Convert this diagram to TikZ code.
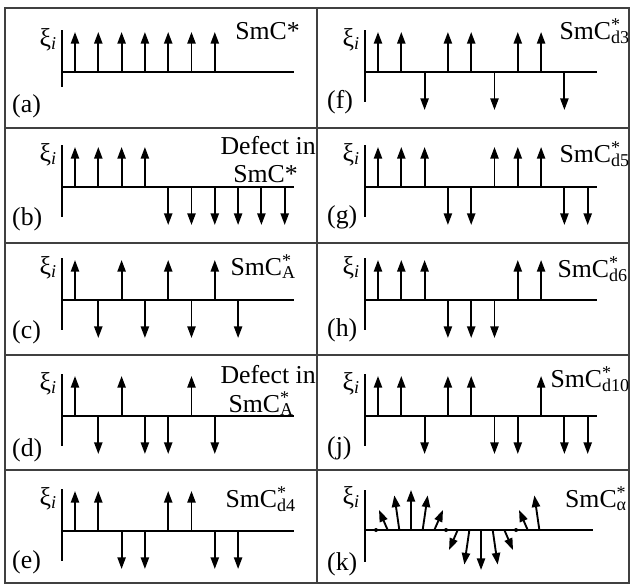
\documentclass[tikz,border=0pt]{standalone}
\usepackage{fontspec}
\setmainfont{Liberation Serif}
\usetikzlibrary{arrows.meta}

% label SmC* with a subscript under the star
\newcommand\smc[1]{SmC\rlap{\textsuperscript{*}}\textsubscript{#1}}
\newcommand\upspins[1]{\foreach \k in {#1} \draw[spin] (75+23.3*\k,0) -- ++(0,-40);}
\newcommand\downspins[1]{\foreach \k in {#1} \draw[spin] (75+23.3*\k,0) -- ++(0,38);}
\newcommand\axes[1]{\draw[axis] (62,-42) -- (62,#1); \draw[axis] (62,0) -- (294,0);}

\begin{document}
\begin{tikzpicture}[x=0.03cm, y=-0.03cm, >={Triangle[length=10pt, width=7pt]},
    every node/.style={font=\fontsize{22}{24}\selectfont, inner sep=0pt},
    frame/.style={draw=black!75, line width=1.1pt},
    axis/.style={line width=1.4pt},
    spin/.style={->, line width=1.6pt}]
  \useasboundingbox (0,0) rectangle (631,586);
  % frame
  \draw[frame] (5,8) rectangle (629,583);
  \draw[frame] (317,8) -- (317,583);
  \foreach \y in {128,243,355,470} \draw[frame] (5,\y) -- (629,\y);

  % left column
  \begin{scope}[shift={(0,72)}] % (a)
    \axes{15}
    \upspins{0,...,6}
    \node[anchor=base east] (xia) at (57,-26) {ξ\textsubscript{\textit{i}}};
    \node[anchor=base west] (la) at (12,40) {(a)};
    \node[anchor=base east] (sa) at (300,-33) {SmC*};
  \end{scope}
  \begin{scope}[shift={(0,187)}] % (b)
    \axes{30}
    \upspins{0,...,3}
    \downspins{4,...,9}
    \node[anchor=base east] (xib) at (57,-26) {ξ\textsubscript{\textit{i}}};
    \node[anchor=base west] (lb) at (12,38) {(b)};
    \node[anchor=base east] (db) at (316,-33) {Defect in};
    \node[anchor=base east] (sb) at (298,-5) {SmC*};
  \end{scope}
  \begin{scope}[shift={(0,300)}] % (c)
    \axes{30}
    \upspins{0,2,4,6}
    \downspins{1,3,5,7}
    \node[anchor=base east] (xic) at (57,-26) {ξ\textsubscript{\textit{i}}};
    \node[anchor=base west] (lc) at (12,38) {(c)};
    \node[anchor=base east] (sc) at (296,-25) {\smc{A}};
  \end{scope}
  \begin{scope}[shift={(0,416)}] % (d)
    \axes{30}
    \upspins{0,2,5}
    \downspins{1,3,4,6}
    \node[anchor=base east] (xid) at (57,-26) {ξ\textsubscript{\textit{i}}};
    \node[anchor=base west] (ld) at (12,40) {(d)};
    \node[anchor=base east] (dd) at (316,-33) {Defect in};
    \node[anchor=base east] (sd) at (294,-4) {\smc{A}};
  \end{scope}
  \begin{scope}[shift={(0,531)}] % (e)
    \axes{30}
    \upspins{0,1,4,5}
    \downspins{2,3,6,7}
    \node[anchor=base east] (xie) at (57,-26) {ξ\textsubscript{\textit{i}}};
    \node[anchor=base west] (le) at (12,37) {(e)};
    \node[anchor=base east] (se) at (296,-24) {\smc{d4}};
  \end{scope}

  % right column
  \begin{scope}[shift={(303,72)}] % (f)
    \axes{30}
    \upspins{0,1,3,4,6,7}
    \downspins{2,5,8}
    \node[anchor=base east] (xif) at (57,-26) {ξ\textsubscript{\textit{i}}};
    \node[anchor=base west] (lf) at (24,36) {(f)};
    \node[anchor=base east] (sf) at (327,-33) {\smc{d3}};
  \end{scope}
  \begin{scope}[shift={(303,187)}] % (g)
    \axes{30}
    \upspins{0,1,2,5,6,7}
    \downspins{3,4,8,9}
    \node[anchor=base east] (xig) at (57,-26) {ξ\textsubscript{\textit{i}}};
    \node[anchor=base west] (lg) at (24,36) {(g)};
    \node[anchor=base east] (sg) at (327,-25) {\smc{d5}};
  \end{scope}
  \begin{scope}[shift={(303,300)}] % (h)
    \axes{30}
    \upspins{0,1,2,6,7}
    \downspins{3,4,5}
    \node[anchor=base east] (xih) at (57,-26) {ξ\textsubscript{\textit{i}}};
    \node[anchor=base west] (lh) at (24,36) {(h)};
    \node[anchor=base east] (sh) at (325,-23) {\smc{d6}};
  \end{scope}
  \begin{scope}[shift={(303,416)}] % (j)
    \axes{30}
    \upspins{0,1,3,4,7}
    \downspins{2,5,6,8,9}
    \node[anchor=base east] (xij) at (57,-26) {ξ\textsubscript{\textit{i}}};
    \node[anchor=base west] (lj) at (24,38) {(j)};
    \node[anchor=base east] (sj) at (327,-29) {\smc{d10}};
  \end{scope}
  \begin{scope}[shift={(303,530)}] % (k)
    \draw[axis] (62,-40) -- (62,32);
    \draw[axis] (62,0) -- (290,0);
    \foreach \j in {1,2,3,4,5,7,8,9,10,11,13,14} {
      \pgfmathsetmacro\s{sin(30*\j)}
      \pgfmathsetmacro\c{cos(30*\j)}
      \draw[spin] (73+11.67*\j,0) -- ++({-10*\c*sign(\s)},{-40*\s});
    }
    \foreach \j in {0,6,12} \fill (73+11.67*\j,0) circle (2);
    \node[anchor=base east] (xik) at (57,-26) {ξ\textsubscript{\textit{i}}};
    \node[anchor=base west] (lk) at (24,40) {(k)};
    \node[anchor=base east] (sk) at (324,-23) {\smc{α}};
  \end{scope}
\end{tikzpicture}
\end{document}
